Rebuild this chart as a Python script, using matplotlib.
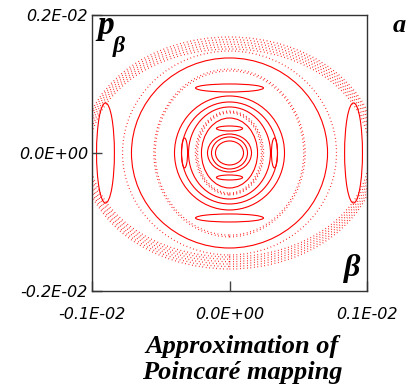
"""Approximation of the Poincare mapping (beta, p_beta) drawn as red
invariant curves, island chains and chaotic bands."""

import matplotlib
matplotlib.use('Agg')
import matplotlib.pyplot as plt
from matplotlib.patches import Ellipse

SCALE = 1e-3  # all sizes below are in units of 1E-03

# regular invariant curves: horizontal / vertical semi-axes
ring_a = [0.102, 0.131, 0.160, 0.204, 0.298, 0.349, 0.400, 0.713]
ring_b = [0.174, 0.232, 0.275, 0.507, 0.667, 0.739, 0.826, 1.377]

# chaotic layers (drawn as dotted curves)
chaos_a = [0.232, 0.240, 0.248, 0.540, 0.550, 0.778,
           1.018, 1.030, 1.042, 1.054, 1.066, 1.076]
chaos_b = [0.580, 0.594, 0.608, 1.190, 1.215, 1.478,
           1.507, 1.540, 1.575, 1.610, 1.645, 1.681]

# islands: centre x, centre y, half width, half height
island_x = [-0.902, 0.902, 0.0, 0.0, 0.0, 0.0, -0.327, 0.327]
island_y = [0.0, 0.0, 0.942, -0.942, 0.355, -0.355, 0.0, 0.0]
island_w = [0.065, 0.065, 0.247, 0.247, 0.095, 0.095, 0.022, 0.022]
island_h = [0.725, 0.725, 0.058, 0.058, 0.036, 0.036, 0.217, 0.217]

x_ticks = [-1e-3, 0.0, 1e-3]
x_tick_labels = ['-0.1E-02', '0.0E+00', '0.1E-02']
y_ticks = [-2e-3, 0.0, 2e-3]
y_tick_labels = ['-0.2E-02', '0.0E+00', '0.2E-02']

RED = '#ff0000'

fig = plt.figure(figsize=(4.12, 3.85), dpi=100)
ax = fig.add_axes([0.2233, 0.2442, 0.6675, 0.7169])

for a, b in zip(ring_a, ring_b):
    ax.add_patch(Ellipse((0, 0), 2*a*SCALE, 2*b*SCALE, fill=False,
                         edgecolor=RED, linewidth=0.8))
for a, b in zip(chaos_a, chaos_b):
    ax.add_patch(Ellipse((0, 0), 2*a*SCALE, 2*b*SCALE, fill=False,
                         edgecolor=RED, linewidth=0.9,
                         linestyle=(0, (0.6, 2.2))))
for cx, cy, w, h in zip(island_x, island_y, island_w, island_h):
    ax.add_patch(Ellipse((cx*SCALE, cy*SCALE), 2*w*SCALE, 2*h*SCALE,
                         fill=False, edgecolor=RED, linewidth=0.8))

ax.set_xlim(-1e-3, 1e-3)
ax.set_ylim(-2e-3, 2e-3)
ax.set_xticks(x_ticks)
ax.set_xticklabels(x_tick_labels)
ax.set_yticks(y_ticks)
ax.set_yticklabels(y_tick_labels)
ax.tick_params(direction='in', length=7, width=1, color='#444444',
               labelsize=11.5)
ax.tick_params(axis='x', pad=11.5)
ax.tick_params(axis='y', pad=3)
for lab in ax.get_xticklabels() + ax.get_yticklabels():
    lab.set_family('DejaVu Sans')
    lab.set_style('italic')
for spine in ax.spines.values():
    spine.set_color('#333333')
    spine.set_linewidth(1.0)

serif = dict(family='Liberation Serif', weight='bold', style='italic')
ax.text(0.018, 0.93, 'p', transform=ax.transAxes, fontsize=24,
        va='baseline', ha='left', **serif)
ax.text(0.075, 0.865, '\u03b2', transform=ax.transAxes, fontsize=17,
        va='baseline', ha='left', **serif)
ax.text(0.915, 0.03, '\u03b2', transform=ax.transAxes, fontsize=23,
        va='bottom', ha='left', **serif)
fig.text(0.968, 0.917, 'a', fontsize=19, va='baseline', ha='center',
         **serif)
fig.text(0.588, 0.002, 'Approximation of\nPoincar\u00e9 mapping',
         fontsize=19, va='bottom', ha='center', linespacing=1.2, **serif)

fig.savefig('out.png', dpi=100)
